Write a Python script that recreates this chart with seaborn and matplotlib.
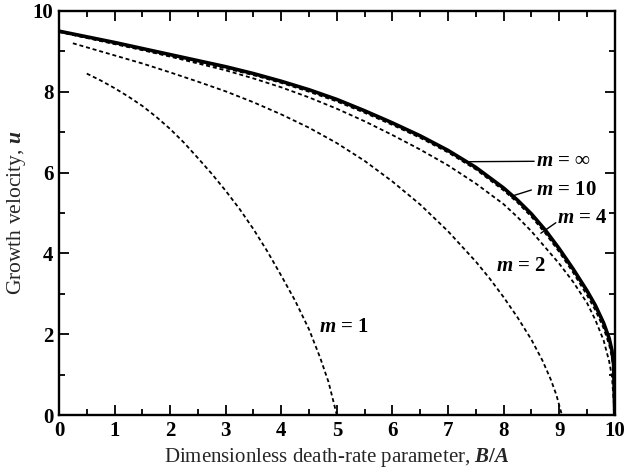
import matplotlib
matplotlib.use("Agg")
import matplotlib.pyplot as plt
from matplotlib.ticker import MultipleLocator
import seaborn as sns

# Growth velocity u against the death-rate parameter B/A for several m
x_inf = [0.0, 0.5, 1.0, 1.5, 2.0, 2.5, 3.0, 3.5, 4.0, 4.5, 5.0, 5.5, 6.0, 6.5, 7.0, 7.5,
         8.0, 8.25, 8.5, 8.75, 9.0, 9.25, 9.5, 9.65, 9.8, 9.9, 9.95, 9.98, 10.0]
u_inf = [9.50, 9.36, 9.22, 9.07, 8.92, 8.77, 8.62, 8.45, 8.26, 8.05, 7.81, 7.53, 7.23, 6.91, 6.55, 6.13,
         5.62, 5.32, 4.98, 4.58, 4.12, 3.62, 3.08, 2.72, 2.28, 1.90, 1.60, 1.25, 0.0]

x_m10 = [0.0, 0.5, 1.0, 1.5, 2.0, 2.5, 3.0, 3.5, 4.0, 4.5, 5.0, 5.5, 6.0, 6.5, 7.0, 7.5,
         8.0, 8.25, 8.5, 8.75, 9.0, 9.25, 9.5, 9.65, 9.8, 9.9, 9.95, 9.98, 10.0]
u_m10 = [9.49, 9.34, 9.19, 9.04, 8.88, 8.73, 8.58, 8.41, 8.22, 8.00, 7.76, 7.48, 7.18, 6.86, 6.50, 6.08,
         5.56, 5.26, 4.91, 4.50, 4.04, 3.53, 2.97, 2.60, 2.15, 1.74, 1.42, 1.10, 0.0]

x_m4 = [0.0, 0.5, 1.0, 1.5, 2.0, 2.5, 3.0, 3.5, 4.0, 4.5, 5.0, 5.5, 6.0, 6.5, 7.0, 7.5,
        8.0, 8.25, 8.5, 8.75, 9.0, 9.25, 9.5, 9.65, 9.8, 9.9, 9.95, 10.0]
u_m4 = [9.48, 9.33, 9.18, 9.03, 8.87, 8.70, 8.53, 8.33, 8.11, 7.86, 7.58, 7.27, 6.93, 6.57, 6.18, 5.73,
        5.22, 4.90, 4.55, 4.15, 3.75, 3.30, 2.78, 2.36, 1.85, 1.33, 0.95, 0.0]

x_m2 = [0.25, 0.5, 1.0, 1.5, 2.0, 2.5, 3.0, 3.5, 4.0, 4.5, 5.0, 5.5, 6.0, 6.5, 7.0, 7.5,
        7.75, 8.0, 8.25, 8.5, 8.7, 8.85, 8.95, 9.05]
u_m2 = [9.20, 9.10, 8.90, 8.70, 8.48, 8.25, 8.01, 7.74, 7.44, 7.11, 6.73, 6.29, 5.78, 5.21, 4.55, 3.80,
        3.38, 2.92, 2.42, 1.87, 1.35, 0.88, 0.50, 0.0]

x_m1 = [0.5, 0.75, 1.0, 1.25, 1.5, 1.75, 2.0, 2.25, 2.5, 2.75, 3.0, 3.25, 3.5, 3.75, 4.0,
        4.25, 4.5, 4.7, 4.85, 5.0]
u_m1 = [8.45, 8.28, 8.09, 7.88, 7.65, 7.38, 7.08, 6.74, 6.36, 5.97, 5.55, 5.10, 4.60, 4.05, 3.45,
        2.83, 2.12, 1.42, 0.82, 0.0]

x_ticks = list(range(0, 11))
y_ticks = [0, 2, 4, 6, 8, 10]

sns.set_style("ticks")
plt.rcParams["font.family"] = ["Liberation Serif", "DejaVu Serif"]
plt.rcParams["mathtext.fontset"] = "custom"
plt.rcParams["mathtext.it"] = "Liberation Serif:italic:bold"
plt.rcParams["mathtext.rm"] = "Liberation Serif:bold"
plt.rcParams["mathtext.bf"] = "Liberation Serif:bold"

fig = plt.figure(figsize=(6.26, 4.75), dpi=100)
ax = fig.add_axes([0.0942, 0.126, 0.8878, 0.851])

dash = (0, (2.2, 1.6))
sns.lineplot(x=x_m10, y=u_m10, ax=ax, color="black", lw=1.3, linestyle=dash, sort=False)
sns.lineplot(x=x_m4, y=u_m4, ax=ax, color="black", lw=1.3, linestyle=dash, sort=False)
sns.lineplot(x=x_m2, y=u_m2, ax=ax, color="black", lw=1.3, linestyle=dash, sort=False)
sns.lineplot(x=x_m1, y=u_m1, ax=ax, color="black", lw=1.3, linestyle=dash, sort=False)
sns.lineplot(x=x_inf, y=u_inf, ax=ax, color="black", lw=2.6, linestyle="-", sort=False)

ax.set_xlim(0, 10)
ax.set_ylim(0, 10)
ax.set_xticks(x_ticks)
ax.set_yticks(y_ticks)
ax.set_xticklabels([str(t) for t in x_ticks])
ax.set_yticklabels([str(t) for t in y_ticks])
ax.xaxis.set_minor_locator(MultipleLocator(0.5))
ax.yaxis.set_minor_locator(MultipleLocator(1))
ax.tick_params(which="both", direction="in", top=True, right=True, width=1.3, colors="black")
ax.tick_params(which="major", length=7, labelsize=15, pad=4)
ax.tick_params(which="minor", length=4)
for lab in ax.get_xticklabels() + ax.get_yticklabels():
    lab.set_fontweight("bold")
for sp in ax.spines.values():
    sp.set_linewidth(1.7)
    sp.set_color("black")

ax.set_xlabel("Dimensionless death-rate parameter, $B/A$", fontsize=15, labelpad=4)
ax.set_ylabel("Growth velocity, $u$", fontsize=15.5, labelpad=3)

# curve labels with leader lines
lbl = dict(fontsize=15, va="center", ha="left", color="black", fontweight="bold")
ax.plot([7.35, 8.55], [6.27, 6.28], color="black", lw=1.0)
ax.text(8.58, 6.28, r"$m$ = $\infty$", **lbl)
ax.plot([8.13, 8.5], [5.41, 5.57], color="black", lw=1.0)
ax.text(8.58, 5.58, r"$m$ = 10", **lbl)
ax.plot([8.67, 8.94], [4.5, 4.76], color="black", lw=1.0)
ax.text(8.97, 4.88, r"$m$ = 4", **lbl)
ax.text(7.86, 3.68, r"$m$ = 2", **lbl)
ax.text(4.67, 2.19, r"$m$ = 1", **lbl)

fig.savefig("out.png", dpi=100)
